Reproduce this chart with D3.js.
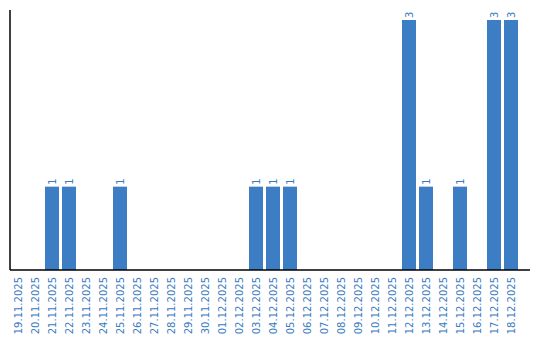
<!DOCTYPE html>
<html lang="de">
<head>
<meta charset="UTF-8">
<title>Daily counts</title>
<script src="https://d3js.org/d3.v7.min.js"></script>
<style>
    body { margin: 0; background: #fff; }
    svg text { font-family: 'DejaVu Sans', sans-serif; font-size: 10px; fill: #3a7bc0; }
</style>
</head>
<body>
<svg id="chart" width="540" height="340"></svg>
<script>
    var days = ["19.11.2025","20.11.2025","21.11.2025","22.11.2025","23.11.2025","24.11.2025",
        "25.11.2025","26.11.2025","27.11.2025","28.11.2025","29.11.2025","30.11.2025",
        "01.12.2025","02.12.2025","03.12.2025","04.12.2025","05.12.2025","06.12.2025",
        "07.12.2025","08.12.2025","09.12.2025","10.12.2025","11.12.2025","12.12.2025",
        "13.12.2025","14.12.2025","15.12.2025","16.12.2025","17.12.2025","18.12.2025"];
    var counts = [0,0,1,1,0,0,1,0,0,0,0,0,0,0,1,1,1,0,0,0,0,0,0,3,1,0,1,0,3,3];

    var margin = {top: 10, right: 10, bottom: 70, left: 10};
    var width = 540 - margin.left - margin.right;
    var height = 340 - margin.top - margin.bottom;

    var svg = d3.select('#chart').append('g')
        .attr('transform', 'translate(' + margin.left + ',' + margin.top + ')');

    // 17px per day, bar 14px wide with 1px lead
    var x = d3.scaleBand().domain(days).range([0, 510]);
    var barW = x.bandwidth() * 14 / 17;
    var y = d3.scaleLinear().domain([0, 3]).range([height, 10]);

    var data = days.map(function (d, i) { return {day: d, v: counts[i]}; });

    svg.selectAll('rect.bar')
        .data(data.filter(function (d) { return d.v > 0; }))
        .enter().append('rect')
        .attr('class', 'bar')
        .attr('x', function (d) { return x(d.day) + 1; })
        .attr('y', function (d) { return y(d.v); })
        .attr('width', barW)
        .attr('height', function (d) { return height - y(d.v); })
        .attr('fill', '#3c7dc3');

    // value labels, rotated
    svg.selectAll('text.val')
        .data(data.filter(function (d) { return d.v > 0; }))
        .enter().append('text')
        .attr('class', 'val')
        .attr('transform', function (d) {
            return 'translate(' + (x(d.day) + 1 + barW / 2 + 3.5) + ',' + (y(d.v) - 2) + ') rotate(-90)';
        })
        .attr('text-anchor', 'start')
        .text(function (d) { return d.v; });

    // axes lines
    svg.append('line').attr('x1', 0).attr('x2', 0).attr('y1', 0).attr('y2', height)
        .attr('stroke', '#000').attr('stroke-width', 1.5);
    svg.append('line').attr('x1', 0).attr('x2', width).attr('y1', height).attr('y2', height)
        .attr('stroke', '#000').attr('stroke-width', 1.5);

    // date labels
    svg.selectAll('text.day')
        .data(days)
        .enter().append('text')
        .attr('class', 'day')
        .attr('transform', function (d) {
            return 'translate(' + (x(d) + 1 + barW / 2 + 3.5) + ',' + (height + 7) + ') rotate(-90)';
        })
        .attr('text-anchor', 'end')
        .text(function (d) { return d; });
</script>
</body>
</html>
